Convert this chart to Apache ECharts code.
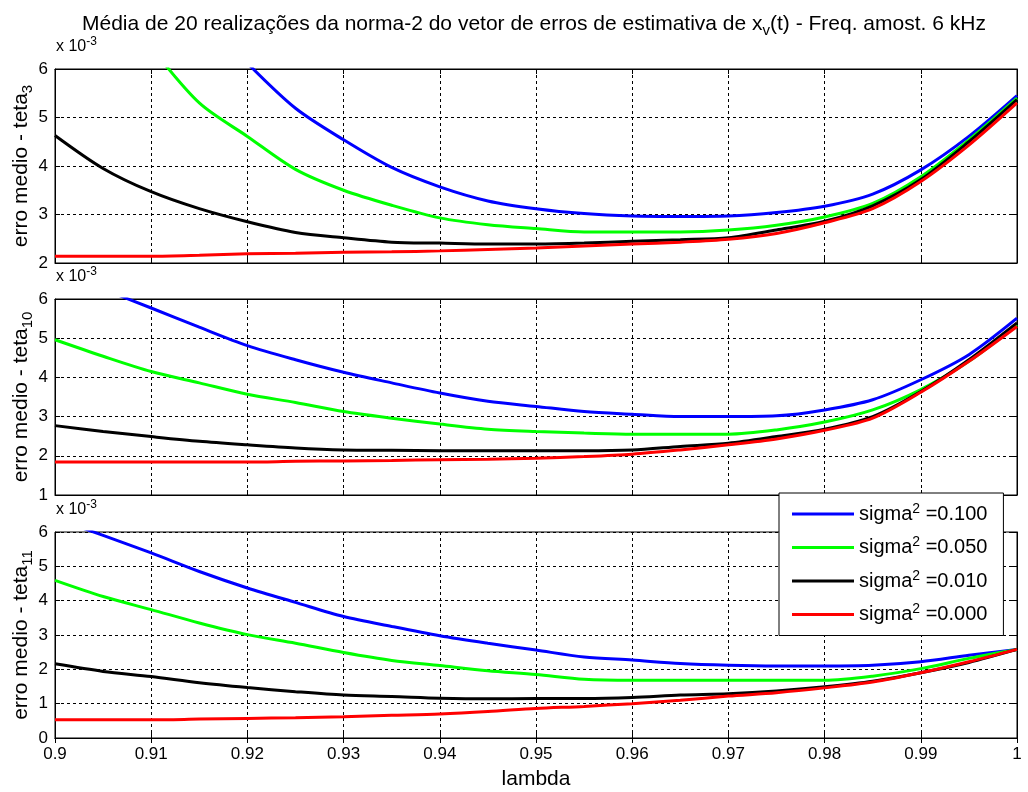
<!DOCTYPE html>
<html><head><meta charset="utf-8">
<script src="https://cdn.jsdelivr.net/npm/echarts@6/dist/echarts.min.js"></script>
<style>html,body{margin:0;padding:0;background:#fff}#c{width:1028px;height:792px}</style>
</head><body><div id="c"></div>
<script>
// lambda grid
const lambda = [0.9,0.905,0.91,0.915,0.92,0.925,0.93,0.935,0.94,0.945,0.95,0.955,0.96,0.965,0.97,0.975,0.98,0.985,0.99,0.995,1.0];
const sigmaVals = ['0.100','0.050','0.010','0.000'];
// values in units of 1e-3
// teta_3
const blue1  = [null,null,null,null,6.12,5.19,4.54,3.97,3.57,3.28,3.12,3.02,2.97,2.96,2.97,3.04,3.17,3.42,3.92,4.61,5.45];
const green1 = [null,null,6.45,5.30,4.61,3.93,3.50,3.19,2.93,2.79,2.71,2.64,2.64,2.64,2.68,2.78,2.95,3.23,3.78,4.54,5.40];
const black1 = [4.63,3.95,3.47,3.12,2.85,2.63,2.52,2.43,2.41,2.39,2.39,2.41,2.45,2.48,2.52,2.68,2.86,3.18,3.72,4.50,5.37];
const red1   = [2.14,2.14,2.14,2.16,2.19,2.20,2.22,2.23,2.25,2.28,2.31,2.35,2.39,2.43,2.49,2.61,2.83,3.12,3.68,4.43,5.30];
// teta_10
const blue2  = [null,6.25,5.77,5.28,4.81,4.45,4.13,3.86,3.60,3.39,3.26,3.13,3.06,3.00,3.00,3.02,3.17,3.43,3.94,4.58,5.51];
const green2 = [4.96,4.54,4.15,3.86,3.57,3.36,3.13,2.96,2.81,2.68,2.62,2.58,2.55,2.55,2.55,2.66,2.86,3.17,3.69,4.41,5.34];
const black2 = [2.77,2.62,2.49,2.37,2.28,2.20,2.15,2.14,2.13,2.13,2.13,2.13,2.15,2.24,2.32,2.49,2.68,3.00,3.64,4.45,5.39];
const red2   = [1.84,1.84,1.84,1.84,1.84,1.86,1.87,1.88,1.90,1.91,1.94,1.98,2.04,2.15,2.28,2.43,2.65,2.96,3.62,4.41,5.30];
// teta_11
const blue3  = [6.40,5.90,5.39,4.85,4.37,3.95,3.54,3.25,2.98,2.76,2.56,2.36,2.27,2.17,2.12,2.10,2.10,2.12,2.22,2.41,2.58];
const green3 = [4.59,4.12,3.74,3.35,3.01,2.76,2.49,2.26,2.11,1.96,1.85,1.71,1.68,1.68,1.68,1.68,1.68,1.80,2.02,2.32,2.58];
const black3 = [2.16,1.94,1.79,1.61,1.47,1.35,1.25,1.21,1.16,1.14,1.15,1.15,1.18,1.25,1.29,1.37,1.49,1.65,1.90,2.20,2.58];
const red3   = [0.53,0.53,0.53,0.55,0.57,0.59,0.62,0.66,0.70,0.77,0.86,0.92,1.00,1.10,1.22,1.32,1.46,1.63,1.90,2.22,2.58];

const yMins = [2,1,0];
const yMax = 6;
const thetaIdx = ['3','10','11'];
const plotData = [[blue1,green1,black1,red1],[blue2,green2,black2,red2],[blue3,green3,black3,red3]];

const colors = ['#0000ff','#00ff00','#000000','#ff0000'];
const FONT = 'Liberation Sans, Arial, sans-serif';
const L = 55, W = 962;
const grids = [
  {left:L, width:W, top:69, height:194},
  {left:L, width:W, top:299, height:196},
  {left:L, width:W, top:532, height:206}
];
const names = sigmaVals.map(v => 'sigma^2 =' + v);
const dash = [3,3];

const xAxes = [], yAxes = [];
grids.forEach((g,i) => {
  xAxes.push({
    type:'value', gridIndex:i, min:0.9, max:1, interval:0.01, position:'bottom',
    axisLine:{show:true, lineStyle:{color:'#000'}},
    axisTick:{show:true, inside:true, length:5, lineStyle:{color:'#000'}},
    axisLabel:{show:i===2, color:'#000', fontFamily:FONT, fontSize:17, margin:8,
      formatter: v => String(parseFloat(v.toFixed(2)))},
    splitLine:{show:true, lineStyle:{color:'#000', type:dash, width:1}},
    name: i===2 ? 'lambda' : '', nameLocation:'middle', nameGap:31,
    nameTextStyle:{fontFamily:FONT, fontSize:21, color:'#000'}
  });
  xAxes.push({
    type:'value', gridIndex:i, min:0.9, max:1, interval:0.01, position:'top',
    axisLine:{show:true, lineStyle:{color:'#000'}},
    axisTick:{show:true, inside:true, length:5, lineStyle:{color:'#000'}},
    axisLabel:{show:false}, splitLine:{show:false}
  });
  yAxes.push({
    type:'value', gridIndex:i, min:yMins[i], max:yMax, interval:1, position:'left',
    axisLine:{show:true, lineStyle:{color:'#000'}},
    axisTick:{show:true, inside:true, length:5, lineStyle:{color:'#000'}},
    axisLabel:{color:'#000', fontFamily:FONT, fontSize:17, margin:7},
    splitLine:{show:true, lineStyle:{color:'#000', type:dash, width:1}},
    name:'{a|erro medio - teta}{b|' + thetaIdx[i] + '}',
    nameLocation:'middle', nameRotate:90, nameGap:20, nameMoveOverlap:false,
    nameTextStyle:{fontFamily:FONT, color:'#000',
      rich:{a:{fontSize:21, fontFamily:FONT, color:'#000'}, b:{fontSize:15, fontFamily:FONT, color:'#000', padding:[13,0,0,0]}}}
  });
  yAxes.push({
    type:'value', gridIndex:i, min:yMins[i], max:yMax, interval:1, position:'right',
    axisLine:{show:true, lineStyle:{color:'#000'}},
    axisTick:{show:true, inside:true, length:5, lineStyle:{color:'#000'}},
    axisLabel:{show:false}, splitLine:{show:false}
  });
});

const option = {
  animation:false,
  backgroundColor:'#fff',
  title:{
    text:'{a|Média de 20 realizações da norma-2 do vetor de erros de estimativa de x}{s|v}{a|(t) - Freq. amost. 6 kHz}',
    left:77, top:5,
    textStyle:{fontFamily:FONT, fontWeight:'normal', color:'#000',
      rich:{a:{fontSize:21, fontFamily:FONT, color:'#000'}, s:{fontSize:15, fontFamily:FONT, color:'#000', padding:[13,0,0,0]}}}
  },
  grid: grids.map(g => Object.assign({show:true, borderColor:'#000', borderWidth:1, containLabel:false, outerBoundsMode:'none'}, g)),
  xAxis: xAxes,
  yAxis: yAxes,
  legend:{
    orient:'vertical', left:779, top:493,
    backgroundColor:'#fff', borderColor:'#000', borderWidth:1,
    padding:[9,16,11,13], itemGap:11.5, itemWidth:62, itemHeight:3, icon:'rect',
    data: names,
    formatter: n => '{a|sigma}{s|2}{a| =' + n.split('=')[1] + '}',
    textStyle:{fontFamily:FONT, color:'#000',
      rich:{a:{fontSize:20, lineHeight:24, fontFamily:FONT, color:'#000'}, s:{fontSize:14, fontFamily:FONT, color:'#000', padding:[0,0,10,0]}}}
  },
  graphic: grids.map(g => ({
    type:'text', left:g.left + 1, top:g.top - 33,
    style:{text:'{a|x 10}{s|-3}', rich:{a:{fontSize:16, fontFamily:FONT, fill:'#000', padding:[9,0,0,0]}, s:{fontSize:12, fontFamily:FONT, fill:'#000'}}}
  })),
  series: []
};
plotData.forEach((set, p) => {
  set.forEach((vals, k) => {
    option.series.push({
      type:'line', name:names[k], xAxisIndex:2*p, yAxisIndex:2*p,
      symbol:'none', smooth:0.3, clip:true,
      lineStyle:{color:colors[k], width:3}, itemStyle:{color:colors[k]},
      data: lambda.map((x,j) => [x, vals[j]]).filter(d => d[1] !== null)
    });
  });
});
const chart = echarts.init(document.getElementById('c'), null, {renderer:'canvas'});
chart.setOption(option);
</script></body></html>
